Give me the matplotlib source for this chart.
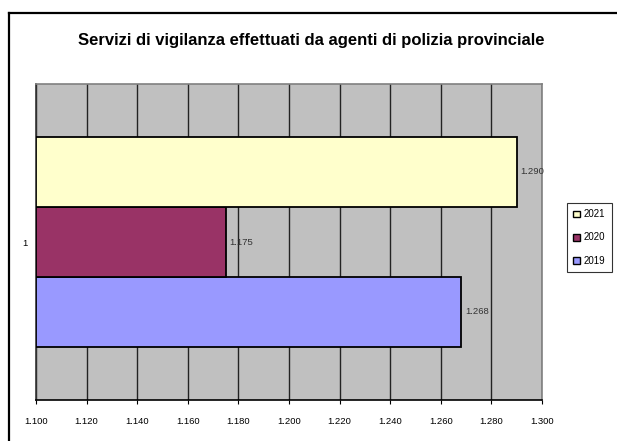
import matplotlib
matplotlib.use("Agg")
import matplotlib.pyplot as plt
from matplotlib.lines import Line2D
from matplotlib.patches import Patch
from matplotlib import font_manager

categories = ["1"]
years = ["2019", "2020", "2021"]
values = [1.268, 1.175, 1.290]
labels = ["1.268", "1.175", "1.290"]
colors = ["#9999FF", "#993366", "#FFFFCC"]
xticks = [1.10, 1.12, 1.14, 1.16, 1.18, 1.20, 1.22, 1.24, 1.26, 1.28, 1.30]
xticklabels = ["1.100", "1.120", "1.140", "1.160", "1.180", "1.200", "1.220", "1.240", "1.260", "1.280", "1.300"]
title = "Servizi di vigilanza effettuati da agenti di polizia provinciale"

names = {f.name for f in font_manager.fontManager.ttflist}
fam = ["Liberation Sans Narrow", "Liberation Sans", "DejaVu Sans"] if "Liberation Sans Narrow" in names else ["Liberation Sans", "DejaVu Sans"]
plt.rcParams["font.family"] = fam

W, H = 617, 441
fig = plt.figure(figsize=(W / 100, H / 100), dpi=100)

# outer frame lines (left and top)
fig.add_artist(Line2D([8.5 / W, 8.5 / W], [0, 1 - 13 / H], color="black", lw=1.6, transform=fig.transFigure))
fig.add_artist(Line2D([8.5 / W, 1], [1 - 13 / H, 1 - 13 / H], color="black", lw=1.6, transform=fig.transFigure))

ax = fig.add_axes([36 / W, 1 - 400 / H, (542 - 36) / W, (400 - 84) / H])
ax.set_facecolor("#C0C0C0")

bh = 70 / 316
base = 1.10
for i, (v, c, lab) in enumerate(zip(values, colors, labels)):
    y = (i - 1) * bh
    ax.barh(y, v - base, left=base, height=bh, color=c, edgecolor="black", linewidth=1.3, zorder=3)
    ax.text(v + 0.0015, y, lab, va="center", ha="left", fontsize=6.8, color="#333333", zorder=4)

ax.set_xlim(1.10, 1.30)
ax.set_ylim(-0.5, 0.5)
ax.set_xticks(xticks)
ax.set_xticklabels(xticklabels, fontsize=6.8)
ax.set_yticks([0])
ax.set_yticklabels(categories, fontsize=6.8)
ax.tick_params(axis="y", length=0, pad=6)
ax.tick_params(axis="x", direction="out", length=3, width=0.8, pad=9)
ax.grid(axis="x", color="#222222", linewidth=1.0, zorder=1)
ax.set_axisbelow(True)

ax.spines["top"].set_color("#808080")
ax.spines["right"].set_color("#808080")
ax.spines["left"].set_color("#333333")
ax.spines["bottom"].set_color("black")
for s in ax.spines.values():
    s.set_linewidth(1.2)

fig.text(311 / W, 1 - 40 / H, title, ha="center", va="center", fontsize=12, fontweight="bold")

handles = [Patch(facecolor=colors[i], edgecolor="black", linewidth=1.0, label=years[i]) for i in [2, 1, 0]]
leg = fig.legend(handles=handles, loc="center", bbox_to_anchor=(589.5 / W, 1 - 237.5 / H),
                 fontsize=7, frameon=True, fancybox=False, edgecolor="black",
                 handlelength=0.7, handleheight=0.7, handletextpad=0.4, labelspacing=1.35,
                 borderpad=0.65, borderaxespad=0)
leg.get_frame().set_linewidth(0.8)

fig.savefig("out.png", dpi=100, facecolor="white")
